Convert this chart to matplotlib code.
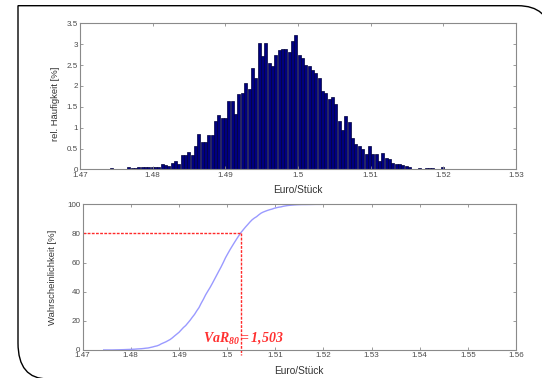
import numpy as np
import matplotlib
matplotlib.use("Agg")
import matplotlib.pyplot as plt
from matplotlib.path import Path
from matplotlib.patches import PathPatch

# ---------------- data ----------------
bin_first_center = 1.4744
bin_width = 0.00046
rel_freq = [
    0.03, 0.00, 0.00, 0.00, 0.00, 0.05, 0.03, 0.04, 0.05, 0.05,
    0.06, 0.06, 0.06, 0.07, 0.07, 0.13, 0.10, 0.08, 0.16, 0.20,
    0.13, 0.34, 0.34, 0.42, 0.34, 0.57, 0.85, 0.66, 0.66, 0.83,
    0.82, 1.15, 1.31, 1.24, 1.24, 1.65, 1.63, 1.33, 1.81, 1.83,
    2.08, 1.93, 2.44, 2.19, 3.02, 2.72, 3.03, 2.55, 2.47, 2.74,
    2.86, 2.88, 2.88, 2.82, 3.07, 3.22, 2.74, 2.68, 2.50, 2.47,
    2.39, 2.31, 2.20, 1.87, 1.83, 1.68, 1.74, 1.56, 1.17, 0.94,
    1.27, 1.14, 0.76, 0.60, 0.57, 0.49, 0.38, 0.56, 0.38, 0.36,
    0.20, 0.40, 0.28, 0.24, 0.16, 0.14, 0.12, 0.10, 0.08, 0.05,
    0.02, 0.00, 0.03, 0.02, 0.03, 0.03, 0.03, 0.00, 0.00, 0.05,
]
var_level = 80
var_value = 1.503
top_xticks = [1.47, 1.48, 1.49, 1.50, 1.51, 1.52, 1.53]
top_xlabels = ["1.47", "1.48", "1.49", "1.5", "1.51", "1.52", "1.53"]
top_yticks = [0, 0.5, 1, 1.5, 2, 2.5, 3, 3.5]
top_ylabels = ["0", "0.5", "1", "1.5", "2", "2.5", "3", "3.5"]
bot_xticks = [1.47, 1.48, 1.49, 1.50, 1.51, 1.52, 1.53, 1.54, 1.55, 1.56]
bot_xlabels = ["1.47", "1.48", "1.49", "1.5", "1.51", "1.52", "1.53", "1.54", "1.55", "1.56"]
bot_yticks = [0, 20, 40, 60, 80, 100]
bot_ylabels = ["0", "20", "40", "60", "80", "100"]

centers = bin_first_center + bin_width * np.arange(len(rel_freq))
freq = np.array(rel_freq)
cdf = np.cumsum(freq)
cdf = cdf / cdf[-1] * 100

# ---------------- style ----------------
plt.rcParams['font.family'] = ['Liberation Sans', 'DejaVu Sans']
plt.rcParams['mathtext.fontset'] = 'custom'
plt.rcParams['mathtext.it'] = 'Liberation Serif:italic:bold'
plt.rcParams['mathtext.rm'] = 'Liberation Serif:italic:bold'
plt.rcParams['mathtext.bf'] = 'Liberation Serif:bold'

W, H = 542, 378
fig = plt.figure(figsize=(W / 100, H / 100), dpi=100)
fig.patch.set_facecolor('white')

def px_rect(l, t, r, b):
    return [l / W, 1 - b / H, (r - l) / W, (b - t) / H]

ax1 = fig.add_axes(px_rect(80, 23.3, 516, 169.5))
ax2 = fig.add_axes(px_rect(82.5, 204.3, 516, 350))

def style(ax):
    for s in ax.spines.values():
        s.set_color('#8a8a8a')
        s.set_linewidth(0.8)
    ax.tick_params(direction='in', length=2.5, width=0.6, colors='#8a8a8a',
                   labelcolor='#4a4a4a', labelsize=5.8, top=True, right=True, pad=1.5)

# top histogram
ax1.bar(centers, freq, width=bin_width * 0.9, color='#000080',
        edgecolor='#00003a', linewidth=0.5, align='center')
ax1.set_xlim(1.47, 1.53)
ax1.set_ylim(0, 3.5)
ax1.set_xticks(top_xticks)
ax1.set_xticklabels(top_xlabels)
ax1.set_yticks(top_yticks)
ax1.set_yticklabels(top_ylabels)
style(ax1)
ax1.set_xlabel('Euro/Stück', fontsize=7.3, color='#333333')
ax1.set_ylabel('rel. Häufigkeit [%]', fontsize=6.8, color='#333333')
ax1.xaxis.set_label_coords(0.5, -0.105)
ax1.yaxis.set_label_coords(-0.045, 0.45)

# bottom cdf
ax2.plot(centers, cdf, color='#9a9aff', linewidth=1.0)
ax2.set_xlim(1.47, 1.56)
ax2.set_ylim(0, 100)
ax2.plot([1.47, var_value], [var_level, var_level], color='#ff2a2a',
         linestyle=(0, (2, 1)), linewidth=1.0)
ax2.plot([var_value, var_value], [var_level, -3.5], color='#ff2a2a',
         linestyle=(0, (2, 1)), linewidth=1.0, clip_on=False)
ax2.set_xticks(bot_xticks)
ax2.set_xticklabels(bot_xlabels)
ax2.set_yticks(bot_yticks)
ax2.set_yticklabels(bot_ylabels)
style(ax2)
ax2.set_xlabel('Euro/Stück', fontsize=7.3, color='#333333')
ax2.set_ylabel('Wahrscheinlichkeit [%]', fontsize=6.8, color='#333333')
ax2.xaxis.set_label_coords(0.5, -0.11)
ax2.yaxis.set_label_coords(-0.058, 0.5)
ax2.text(1.4951, 8.5, r'$VaR_{80} = 1{,}503$', color='#ff3030', fontsize=10,
         ha='left', va='center')

# frame (pixel coords, y downward)
def P(x, y):
    return (x / W, 1 - y / H)

verts = [P(48, 379), P(18, 379), P(18, 343), P(18, 5.7), P(518, 5.7),
         P(548, 5.7), P(552, 35)]
codes = [Path.MOVETO, Path.CURVE3, Path.CURVE3, Path.LINETO, Path.LINETO,
         Path.CURVE3, Path.CURVE3]
frame = PathPatch(Path(verts, codes), transform=fig.transFigure,
                  facecolor='none', edgecolor='black', linewidth=1.0, clip_on=False)
fig.patches.append(frame)

fig.savefig('out.png', dpi=100)
